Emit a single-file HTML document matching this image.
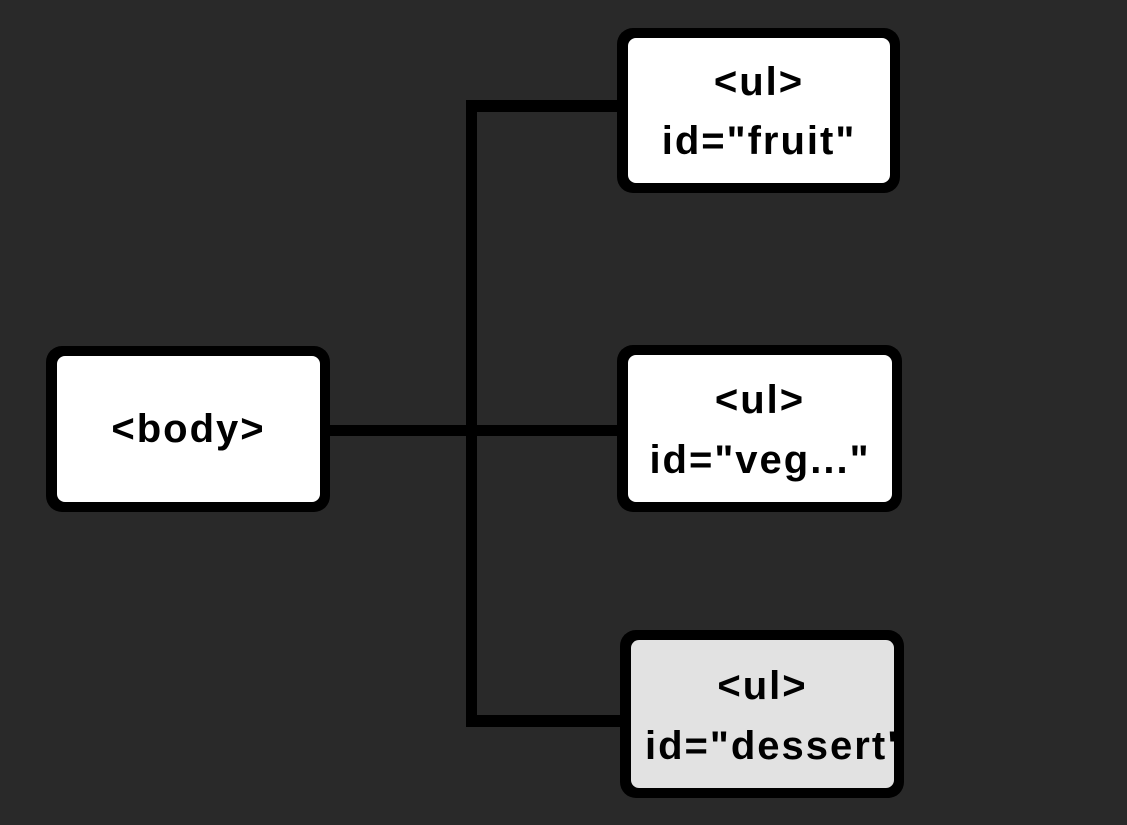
<!DOCTYPE html>
<html><head><style>
html,body{margin:0;padding:0;}
body{width:1127px;height:825px;background:#292929;position:relative;overflow:hidden;font-family:"Liberation Sans",sans-serif;font-weight:bold;}
.l{position:absolute;background:#000;}
.b{position:absolute;background:#000;border-radius:16px;}
.i{position:absolute;left:11px;top:10px;right:10px;bottom:10px;background:#fff;border-radius:8px;overflow:hidden;color:#000;text-align:center;}
.t{position:absolute;left:-20px;right:-20px;font-size:40px;letter-spacing:2px;line-height:46px;white-space:nowrap;}
</style></head><body>
<div class="l" style="left:466px;top:100px;width:11px;height:627px"></div>
<div class="l" style="left:466px;top:100px;width:155px;height:12px"></div>
<div class="l" style="left:328px;top:425px;width:293px;height:11px"></div>
<div class="l" style="left:466px;top:715px;width:158px;height:12px"></div>

<div class="b" style="left:46px;top:346px;width:284px;height:166px"><div class="i"><div class="t" style="top:50px">&lt;body&gt;</div></div></div>

<div class="b" style="left:617px;top:28px;width:283px;height:165px"><div class="i"><div class="t" style="top:21px">&lt;ul&gt;</div><div class="t" style="top:80px">id="fruit"</div></div></div>

<div class="b" style="left:617px;top:345px;width:285px;height:167px"><div class="i"><div class="t" style="top:22px">&lt;ul&gt;</div><div class="t" style="top:82px">id="veg..."</div></div></div>

<div class="b" style="left:620px;top:630px;width:284px;height:168px"><div class="i" style="background:#e2e2e2"><div class="t" style="top:23px">&lt;ul&gt;</div><div class="t" style="top:83px;left:14px;right:auto;text-align:left">id="dessert"</div></div></div>
</body></html>
